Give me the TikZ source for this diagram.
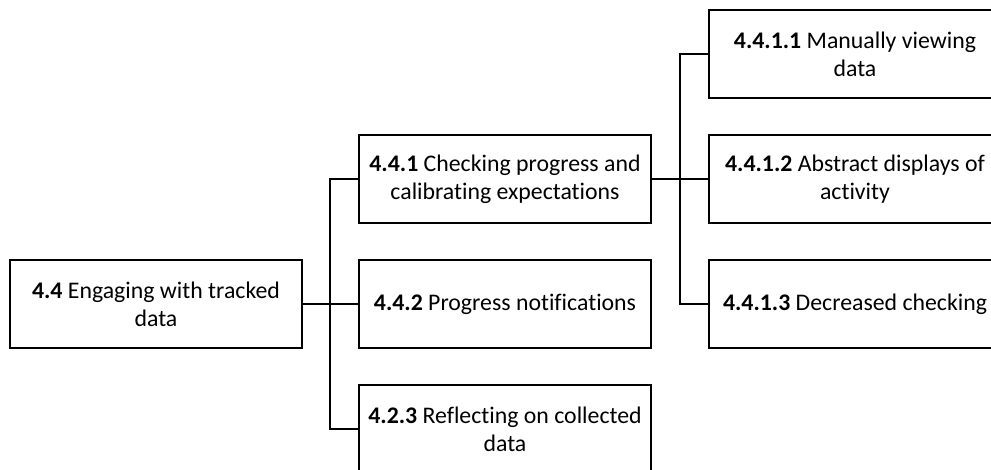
\documentclass[tikz,border=0pt]{standalone}
\usepackage{fontspec}
\setmainfont{Carlito}[Ligatures=NoCommon]
\usepackage{tikz}
\usetikzlibrary{positioning}

\begin{document}
\begin{tikzpicture}[
  topic/.style={rectangle, draw, line width=1.4pt, minimum width=146pt,
                minimum height=44pt, align=center, inner sep=2pt, outer sep=0pt,
                font=\fontsize{11.9}{14}\selectfont},
  link/.style={line width=1.4pt},
  node distance=18.5pt and 28.5pt
]
  \useasboundingbox (0,0) rectangle (495.5pt,-235pt);
  \clip (0,0) rectangle (495.5pt,-235pt);

  \node[topic] (root) at (78pt,-152pt) {\textbf{4.4} Engaging with tracked\\data};

  % second level
  \node[topic, right=of root] (prog)   {\textbf{4.4.2} Progress notifications};
  \node[topic, above=of prog] (check)  {\textbf{4.4.1} Checking progress and\\calibrating expectations};
  \node[topic, below=of prog] (reflect){\textbf{4.2.3} Reflecting on collected\\data};

  % third level
  \node[topic, right=29pt of check] (abstract) {\textbf{4.4.1.2} Abstract displays of\\activity};
  \node[topic, above=of abstract]   (manual)   {\textbf{4.4.1.1} Manually viewing\\data};
  \node[topic, below=of abstract]   (decrease) {\textbf{4.4.1.3} Decreased checking};

  \draw[link] (root.east) -- ++(14pt,0) |- (check.west);
  \draw[link] (root.east) -- (prog.west);
  \draw[link] (root.east) -- ++(14pt,0) |- (reflect.west);

  \draw[link] (check.east) -- ++(14.5pt,0) |- (manual.west);
  \draw[link] (check.east) -- (abstract.west);
  \draw[link] (check.east) -- ++(14.5pt,0) |- (decrease.west);
\end{tikzpicture}
\end{document}
